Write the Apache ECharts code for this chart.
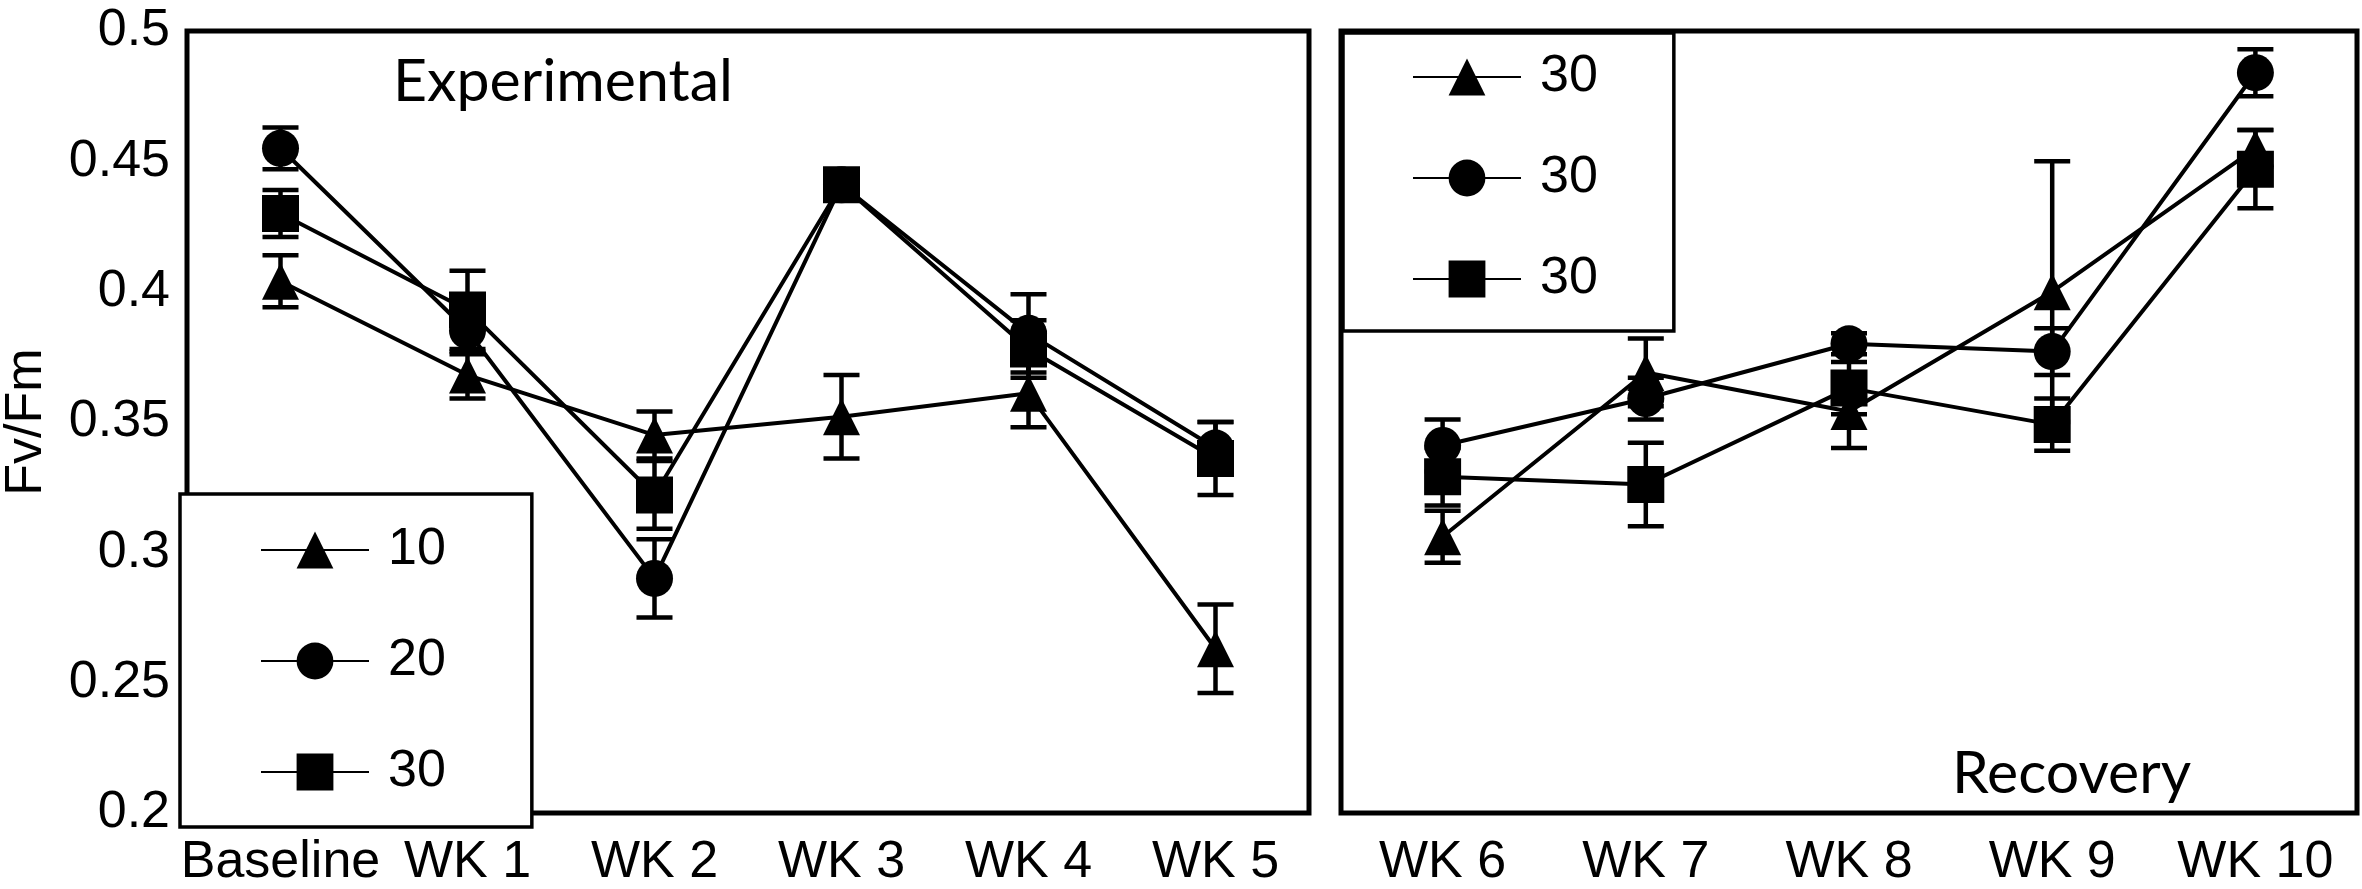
<!DOCTYPE html>
<html>
<head>
    <meta charset="utf-8">
    <title>Fv/Fm</title>
    <script type="text/javascript" src="https://cdn.jsdelivr.net/npm/echarts@6/dist/echarts.min.js"></script>
    <style>
        html, body { margin: 0; padding: 0; background: #fff; }
        #main { width: 2362px; height: 889px; }
    </style>
</head>
<body>
	<div id="main"></div>
	<script type="text/javascript">
	// tick labels / categories
	var expWeeks = ['Baseline', 'WK 1', 'WK 2', 'WK 3', 'WK 4', 'WK 5'];
	var recWeeks = ['WK 6', 'WK 7', 'WK 8', 'WK 9', 'WK 10'];

	// experimental phase (mean, error)
	var exp10 = [0.404, 0.368, 0.345, 0.352, 0.361, 0.263];
	var exp10Err = [0.010, 0.009, 0.009, 0.016, 0.013, 0.017];
	var exp20 = [0.455, 0.385, 0.290, 0.441, 0.384, 0.340];
	var exp20Err = [0.008, 0.009, 0.015, 0.003, 0.015, 0.010];
	var exp30 = [0.430, 0.393, 0.322, 0.441, 0.378, 0.336];
	var exp30Err = [0.009, 0.015, 0.013, 0.003, 0.011, 0.014];

	// recovery phase
	var rec1 = [0.306, 0.369, 0.354, 0.400, 0.455];
	var rec1Err = [0.010, 0.013, 0.014, 0.050, 0.007];
	var rec2 = [0.341, 0.359, 0.380, 0.377, 0.484];
	var rec2Err = [0.010, 0.008, 0.004, 0.009, 0.009];
	var rec3 = [0.329, 0.326, 0.363, 0.349, 0.447];
	var rec3Err = [0.011, 0.016, 0.010, 0.010, 0.015];

	var legendText = {
		'10': '10', '20': '20', '30': '30',
		'r10': '30', 'r20': '30', 'r30': '30'
	};

	var numFont = 'Liberation Sans';
	var black = '#000';

	var myChart = echarts.init(document.getElementById('main'));

	function errData(vals, errs) {
		return vals.map(function(v, i){
			return [i, v - errs[i], v + errs[i]];
		});
	}

	function errSeries(idx, vals, errs) {
		return {
			type: 'custom',
			xAxisIndex: idx,
			yAxisIndex: idx,
			z: 2,
			silent: true,
			encode: {x: 0, y: [1, 2]},
			data: errData(vals, errs),
			renderItem: function(params, api) {
				var top = api.coord([api.value(0), api.value(2)]);
				var bot = api.coord([api.value(0), api.value(1)]);
				var hw = 18;
				var st = {stroke: black, lineWidth: 4.5};
				return {
					type: 'group',
					children: [
						{type: 'line', shape: {x1: top[0], y1: top[1], x2: bot[0], y2: bot[1]}, style: st},
						{type: 'line', shape: {x1: top[0] - hw, y1: top[1], x2: top[0] + hw, y2: top[1]}, style: st},
						{type: 'line', shape: {x1: bot[0] - hw, y1: bot[1], x2: bot[0] + hw, y2: bot[1]}, style: st}
					]
				};
			}
		};
	}

	function lineSeries(idx, name, symbol, vals) {
		return {
			name: name,
			type: 'line',
			xAxisIndex: idx,
			yAxisIndex: idx,
			z: 3,
			data: vals,
			symbol: symbol,
			symbolSize: 37,
			showAllSymbol: true,
			lineStyle: {color: black, width: 4},
			itemStyle: {color: black},
			emphasis: {disabled: true}
		};
	}

	function xAxis(idx, cats) {
		return {
			type: 'category',
			gridIndex: idx,
			data: cats,
			boundaryGap: true,
			axisLine: {show: false},
			axisTick: {show: false},
			axisLabel: {fontFamily: numFont, fontSize: 52, color: black, margin: 24, interval: 0}
		};
	}

	function yAxis(idx, showLabels) {
		return {
			type: 'value',
			gridIndex: idx,
			min: 0.2,
			max: 0.5,
			interval: 0.05,
			axisLine: {show: false},
			axisTick: {show: false},
			splitLine: {show: false},
			name: showLabels ? 'Fv/Fm' : '',
			nameLocation: 'middle',
			nameGap: 134,
			nameTextStyle: {fontFamily: numFont, fontSize: 52, color: black},
			axisLabel: {show: showLabels, fontFamily: numFont, fontSize: 52, color: black, margin: 17}
		};
	}

	var legendBase = {
		orient: 'vertical',
		itemWidth: 108,
		itemHeight: 46,
		backgroundColor: '#fff',
		borderColor: black,
		borderWidth: 3.5,
		borderRadius: 0,
		selectedMode: false,
		formatter: function(name){ return legendText[name]; },
		textStyle: {fontFamily: numFont, fontSize: 52, color: black, padding: [0, 0, 0, 14]}
	};

	var option = {
		animation: false,
		backgroundColor: '#fff',
		grid: [
			{left: 183, top: 31, width: 1126, height: 792, show: true, borderColor: black, borderWidth: 5, backgroundColor: 'transparent'},
			{left: 1341, top: 31, width: 1016, height: 792, show: true, borderColor: black, borderWidth: 5, backgroundColor: 'transparent'}
		],
		xAxis: [xAxis(0, expWeeks), xAxis(1, recWeeks)],
		yAxis: [yAxis(0, true), yAxis(1, false)],
		legend: [
			echarts.util.merge({
				left: 180, top: 494,
				itemGap: 59,
				padding: [30, 86, 29, 80],
				data: ['10', '20', '30']
			}, legendBase),
			echarts.util.merge({
				left: 1343, top: 33,
				itemGap: 49,
				padding: [18, 76, 26, 69],
				data: ['r10', 'r20', 'r30']
			}, legendBase)
		],
		graphic: [
			{type: 'text', x: 393, y: 82, style: {text: 'Experimental', font: '59px Lato', fill: black, verticalAlign: 'middle'}},
			{type: 'text', x: 1952, y: 774, style: {text: 'Recovery', font: '59px Lato', fill: black, verticalAlign: 'middle'}}
		],
		series: [
			errSeries(0, exp10, exp10Err),
			errSeries(0, exp20, exp20Err),
			errSeries(0, exp30, exp30Err),
			lineSeries(0, '10', 'triangle', exp10),
			lineSeries(0, '20', 'circle', exp20),
			lineSeries(0, '30', 'rect', exp30),
			errSeries(1, rec1, rec1Err),
			errSeries(1, rec2, rec2Err),
			errSeries(1, rec3, rec3Err),
			lineSeries(1, 'r10', 'triangle', rec1),
			lineSeries(1, 'r20', 'circle', rec2),
			lineSeries(1, 'r30', 'rect', rec3)
		]
	};
	myChart.setOption(option);
	</script>
</body>
</html>
